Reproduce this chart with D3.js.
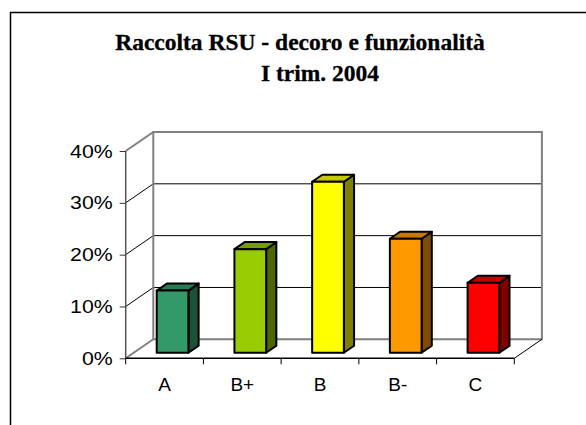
<!DOCTYPE html>
<html><head><meta charset="utf-8">
<script src="https://cdn.jsdelivr.net/npm/d3@7"></script>
<style>
html,body{margin:0;padding:0;background:#fff;}
svg{display:block;}
</style></head>
<body>
<script>
const categories = ["A", "B+", "B", "B-", "C"];
const values = [0.12, 0.20, 0.33, 0.22, 0.135];
const frontColors = ["#339966", "#99CC00", "#FFFF00", "#FF9900", "#FF0000"];
const topColors = ["#287a52", "#779e00", "#c8c800", "#c87800", "#c80000"];
const sideColors = ["#1c5037", "#4d6600", "#808000", "#804d00", "#800000"];
const yTicks = [0, 0.1, 0.2, 0.3, 0.4];
const titleLines = ["Raccolta RSU - decoro e funzionalità", "I trim. 2004"];

const W = 586, H = 425;
const svg = d3.select("body").append("svg").attr("width", W).attr("height", H);

// plot geometry (front plane)
const x0 = 125.7, x1 = 514.3, yBot = 358.3, yTop = 151;
const DX = 27.6, DY = -19; // full depth offset
const f0 = 0.29, f1 = 0.66; // bar depth positions

const x = d3.scaleBand().domain(categories).range([x0, x1]).paddingInner(0).paddingOuter(0);
const y = d3.scaleLinear().domain([0, 0.4]).range([yBot, yTop]);

// frame
svg.append("rect").attr("x", 10.5).attr("y", 12.5).attr("width", 600).attr("height", 450)
  .attr("fill", "none").attr("stroke", "#000").attr("stroke-width", 1.5);

// title
const titlePos = [[300, 49.5], [320, 81]];
svg.selectAll("text.title").data(titleLines).join("text")
  .attr("class", "title")
  .attr("x", (d, i) => titlePos[i][0]).attr("y", (d, i) => titlePos[i][1])
  .attr("text-anchor", "middle")
  .attr("font-family", "'Liberation Serif','Times New Roman',serif")
  .attr("font-weight", "bold").attr("font-size", 23.5)
  .attr("stroke", "#000").attr("stroke-width", 0.3)
  .text(d => d);

const g = svg.append("g");

// back wall gridlines (interior)
g.selectAll("line.grid").data(yTicks.filter(t => t > 0 && t < 0.4)).join("line")
  .attr("x1", x0 + DX).attr("x2", x1 + DX)
  .attr("y1", d => y(d) + DY).attr("y2", d => y(d) + DY)
  .attr("stroke", "#000").attr("stroke-width", 1);
// depth lines from left axis ticks to back wall
g.selectAll("line.depth").data(yTicks).join("line")
  .attr("x1", x0).attr("y1", d => y(d))
  .attr("x2", x0 + DX).attr("y2", d => y(d) + DY)
  .attr("stroke", d => (d === 0 || d === 0.4) ? "#808080" : "#000")
  .attr("stroke-width", d => (d === 0 || d === 0.4) ? 2 : 1);

// back wall border (gray)
g.append("path")
  .attr("d", `M${x0 + DX},${y(0) + DY}L${x0 + DX},${y(0.4) + DY}L${x1 + DX},${y(0.4) + DY}L${x1 + DX},${y(0) + DY}Z`)
  .attr("fill", "none").attr("stroke", "#808080").attr("stroke-width", 2);
// floor right edge
g.append("line").attr("x1", x1).attr("y1", y(0)).attr("x2", x1 + DX).attr("y2", y(0) + DY)
  .attr("stroke", "#000").attr("stroke-width", 1);

// bars
const bw = x.bandwidth() * 0.408;
const bars = g.selectAll("g.bar").data(values).join("g").attr("class", "bar");
const pt = (px, py, f) => [px + DX * f, py + DY * f];
bars.each(function (v, i) {
  const sel = d3.select(this);
  const L = x(categories[i]) + (x.bandwidth() - bw) / 2, R = L + bw;
  const yb = y(0), yt = y(v);
  const p = (px, py, f) => pt(px, py, f).join(",");
  sel.append("path")
    .attr("d", `M${p(R, yb, f0)}L${p(R, yb, f1)}L${p(R, yt, f1)}L${p(R, yt, f0)}Z`)
    .attr("fill", sideColors[i]).attr("stroke", "#000").attr("stroke-width", 2).attr("stroke-linejoin", "round");
  sel.append("path")
    .attr("d", `M${p(L, yt, f0)}L${p(L, yt, f1)}L${p(R, yt, f1)}L${p(R, yt, f0)}Z`)
    .attr("fill", topColors[i]).attr("stroke", "#000").attr("stroke-width", 2).attr("stroke-linejoin", "round");
  sel.append("path")
    .attr("d", `M${p(L, yb, f0)}L${p(L, yt, f0)}L${p(R, yt, f0)}L${p(R, yb, f0)}Z`)
    .attr("fill", frontColors[i]).attr("stroke", "#000").attr("stroke-width", 2).attr("stroke-linejoin", "round");
});

// left axis
const yAxis = d3.axisLeft(y).tickValues(yTicks).tickFormat(d3.format(".0%")).tickSize(6).tickPadding(7);
const ya = svg.append("g").attr("transform", `translate(${x0},0)`).call(yAxis);
ya.select(".domain").attr("stroke", "#555").attr("stroke-width", 1.5).attr("d", `M0,${yTop}V${yBot}`);
ya.selectAll(".tick line").attr("stroke", "#333");
ya.selectAll(".tick text").attr("font-family", "'Liberation Sans',Arial,sans-serif").attr("font-size", 19).attr("fill", "#000")
  .each(function () {
    const len = this.getComputedTextLength();
    d3.select(this).attr("textLength", len * 1.12).attr("lengthAdjust", "spacingAndGlyphs");
  });

// bottom axis
const xAxis = d3.axisBottom(x).tickSize(0).tickPadding(19);
const xa = svg.append("g").attr("transform", `translate(0,${yBot})`).call(xAxis);
xa.select(".domain").attr("stroke", "#000").attr("stroke-width", 1.5).attr("d", `M${x0},0H${x1}`);
xa.selectAll(".tick text").attr("font-family", "'Liberation Sans',Arial,sans-serif").attr("font-size", 19).attr("fill", "#000");
const bounds = categories.map(c => x(c)).concat([x1]);
xa.selectAll("line.btick").data(bounds).join("line").attr("class", "btick")
  .attr("x1", d => d).attr("x2", d => d).attr("y1", 0).attr("y2", 6)
  .attr("stroke", "#000").attr("stroke-width", 1);
</script>
</body></html>
